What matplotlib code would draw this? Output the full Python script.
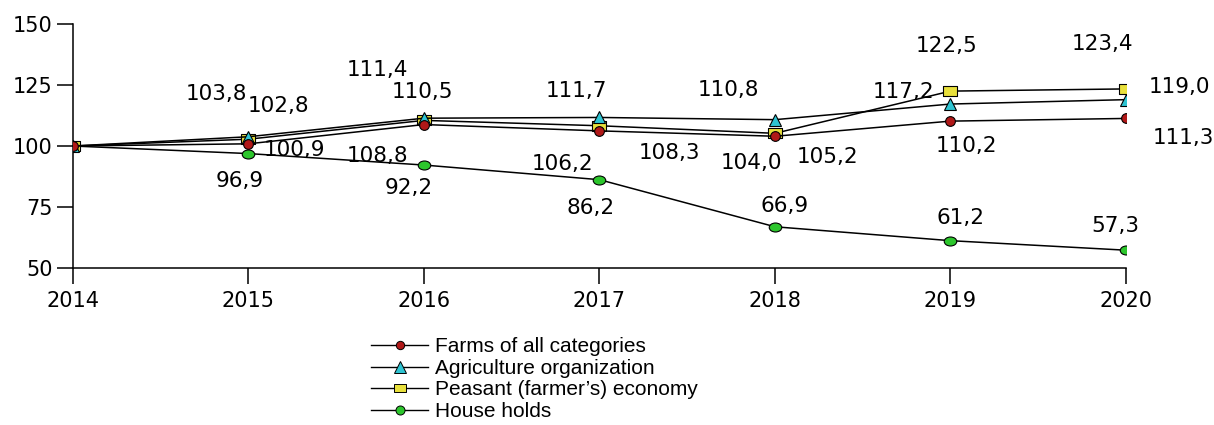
import numpy as np
import matplotlib
matplotlib.use("Agg")
import matplotlib.pyplot as plt
from matplotlib.path import Path
from matplotlib.lines import Line2D

# index values, 2014 = 100
years = [2014, 2015, 2016, 2017, 2018, 2019, 2020]
farms_all = [100, 100.9, 108.8, 106.2, 104.0, 110.2, 111.3]
agri_org = [100, 103.8, 111.4, 111.7, 110.8, 117.2, 119.0]
peasant = [100, 102.8, 110.5, 108.3, 105.2, 122.5, 123.4]
households = [100, 96.9, 92.2, 86.2, 66.9, 61.2, 57.3]
names = ["Farms of all categories", "Agriculture organization",
         "Peasant (farmer\u2019s) economy", "House holds"]

# where each value label sits relative to its marker (pixels, y up), 2015..2020
farms_off = [(46, -6), (-46, -31), (-37, -33), (-24, -27), (16, -25), (57, -20)]
agri_off = [(-32, 43), (-47, 48), (-23, 26), (-47, 30), (-47, 12), (53, 13)]
peas_off = [(30, 33), (-2, 28), (70, -27), (53, -24), (-4, 45), (-23, 45)]
house_off = [(-9, -27), (-15, -23), (-9, -28), (10, 21), (10, 23), (-11, 24)]

rect = Path([(-1, -0.7), (1, -0.7), (1, 0.7), (-1, 0.7), (-1, -0.7)],
            [Path.MOVETO, Path.LINETO, Path.LINETO, Path.LINETO, Path.CLOSEPOLY])
uc = Path.unit_circle()
ellipse = Path(uc.vertices * np.array([1.0, 0.72]), uc.codes)

fig = plt.figure(figsize=(12.14, 4.25), dpi=100)
ax = fig.add_axes([0.0601, 0.3694, 0.8674, 0.5741])

styles = [
    (households, ellipse, "#2cc62c", 9, house_off),
    (peasant, rect, "#e8e03c", 10.5, peas_off),
    (agri_org, "^", "#2ec4d2", 9, agri_off),
    (farms_all, "o", "#b01818", 7, farms_off),
]
for vals, mk, col, ms, offs in styles:
    ax.plot(years, vals, color="black", lw=1.1, marker=mk, markersize=ms,
            markerfacecolor=col, markeredgecolor="black", markeredgewidth=0.8,
            zorder=3)
    for x, v, (dx, dy) in zip(years[1:], vals[1:], offs):
        ax.annotate(f"{v:.1f}".replace(".", ","), (x, v), xytext=(dx, dy),
                    textcoords="offset pixels", ha="center", va="center",
                    fontsize=15.5, color="black")

ax.set_xlim(2014, 2020)
ax.set_ylim(50, 150)
ax.set_xticks(years)
ax.set_yticks([50, 75, 100, 125, 150])
ax.spines["top"].set_visible(False)
ax.spines["right"].set_visible(False)
for s in ("left", "bottom"):
    ax.spines[s].set_linewidth(1.1)
ax.tick_params(axis="both", length=11.5, width=1.1, labelsize=15)
ax.tick_params(axis="y", pad=3)
ax.tick_params(axis="x", pad=5)
ax.patch.set_alpha(0)

handles = [
    Line2D([], [], color="black", lw=1.0, marker="o", markersize=6,
           markerfacecolor="#b01818", markeredgecolor="black", markeredgewidth=0.7),
    Line2D([], [], color="black", lw=1.0, marker="^", markersize=8,
           markerfacecolor="#2ec4d2", markeredgecolor="black", markeredgewidth=0.7),
    Line2D([], [], color="black", lw=1.0, marker=rect, markersize=9,
           markerfacecolor="#e8e03c", markeredgecolor="black", markeredgewidth=0.7),
    Line2D([], [], color="black", lw=1.0, marker="o", markersize=6.5,
           markerfacecolor="#2cc62c", markeredgecolor="black", markeredgewidth=0.7),
]
fig.legend(handles, names, loc="upper left", bbox_to_anchor=(0.306, 0.206),
           frameon=False, handlelength=2.7, handletextpad=0.35,
           labelspacing=0.12, borderpad=0, borderaxespad=0,
           prop={"family": "Liberation Sans", "size": 15})

fig.savefig("out.png", dpi=100)
